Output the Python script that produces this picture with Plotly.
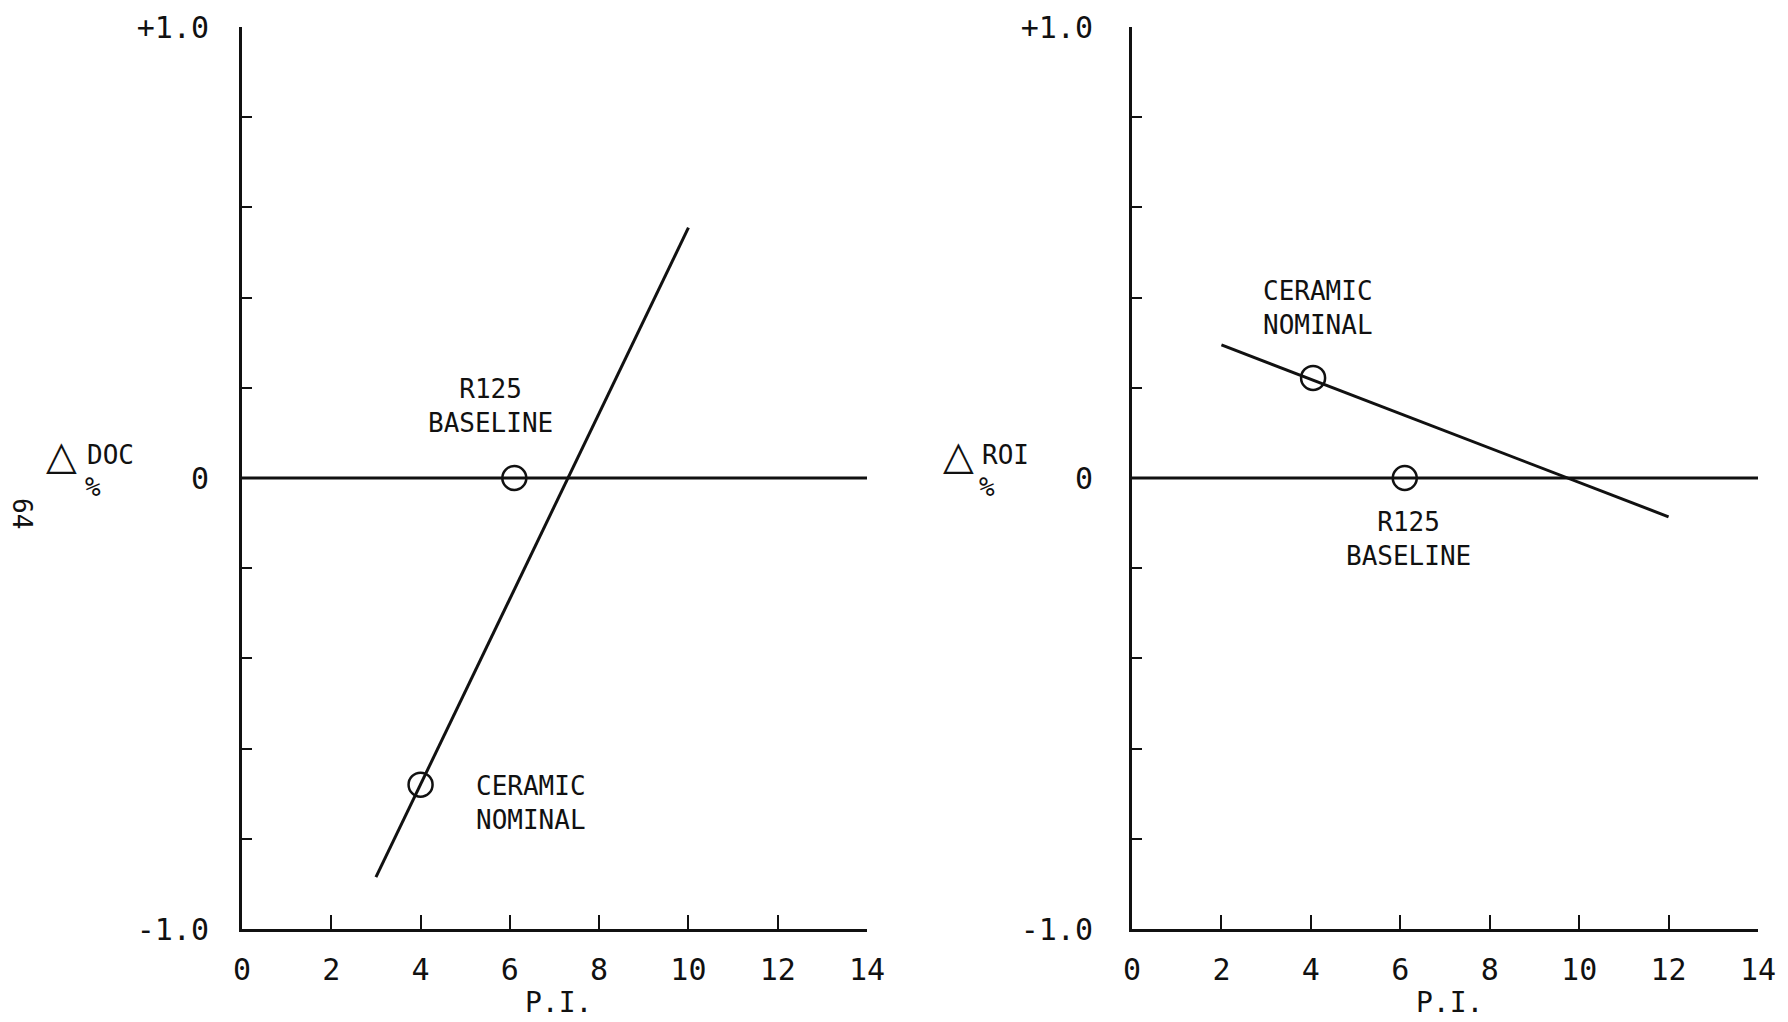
import plotly.graph_objects as go

# page body has an 8px margin; figure sized so the page fits the window
OFF = 8
W, H = 1780, 1014

# ---- data ----
pi_ticks = [0, 2, 4, 6, 8, 10, 12, 14]
y_ticks = [-1.0, -0.8, -0.6, -0.4, -0.2, 0.0, 0.2, 0.4, 0.6, 0.8, 1.0]
y_ticktext = ["-1.0", "", "", "", "", "0", "", "", "", "", "+1.0"]

baseline_x = [0, 14]
baseline_y = [0, 0]

doc_line_pi = [3.0, 10.0]
doc_line_val = [-0.885, 0.555]
doc_points_pi = [6.1, 4.0]
doc_points_val = [0.0, -0.68]

roi_line_pi = [2.0, 12.0]
roi_line_val = [0.295, -0.086]
roi_points_pi = [6.1, 4.05]
roi_points_val = [0.0, 0.222]

FONT = "DejaVu Sans Mono"
BLACK = "#111111"

fig = go.Figure()

def add_panel(xa, ya, line_x, line_y, pts_x, pts_y):
    fig.add_trace(go.Scatter(x=baseline_x, y=baseline_y, mode="lines",
                             line=dict(color=BLACK, width=3), xaxis=xa, yaxis=ya,
                             showlegend=False, hoverinfo="skip", cliponaxis=False))
    fig.add_trace(go.Scatter(x=line_x, y=line_y, mode="lines",
                             line=dict(color=BLACK, width=3), xaxis=xa, yaxis=ya,
                             showlegend=False, cliponaxis=False))
    fig.add_trace(go.Scatter(x=pts_x, y=pts_y, mode="markers",
                             marker=dict(symbol="circle-open", size=24, color=BLACK,
                                         line=dict(width=2.5, color=BLACK)),
                             xaxis=xa, yaxis=ya, showlegend=False, cliponaxis=False))

add_panel("x", "y", doc_line_pi, doc_line_val, doc_points_pi, doc_points_val)
add_panel("x2", "y2", roi_line_pi, roi_line_val, roi_points_pi, roi_points_val)

def px(xp):
    return (xp - OFF) / W

def py(yp):
    return 1 - (yp - OFF) / H

ydom = [py(929), py(27)]
xdom1 = [px(242), px(867)]
xdom2 = [px(1132), px(1758)]

def xaxis_cfg(dom, anchor):
    return dict(domain=dom, anchor=anchor, range=[0, 14], tickvals=pi_ticks,
                ticktext=[str(v) for v in pi_ticks], ticks="inside", ticklen=14,
                tickwidth=2, tickcolor=BLACK, showline=True, linewidth=3,
                linecolor=BLACK, showgrid=False, zeroline=False, automargin=False,
                tickfont=dict(family=FONT, size=30, color=BLACK),
                ticklabelstandoff=12)

def yaxis_cfg(anchor, standoff):
    return dict(domain=ydom, anchor=anchor, range=[-1, 1], tickvals=y_ticks,
                ticktext=y_ticktext, ticks="inside", ticklen=10, tickwidth=2,
                tickcolor=BLACK, showline=True, linewidth=3, linecolor=BLACK,
                showgrid=False, zeroline=False, automargin=False,
                tickfont=dict(family=FONT, size=30, color=BLACK),
                ticklabelstandoff=standoff)

ann = []
txt = dict(family=FONT, size=26, color=BLACK)
# in-plot labels
ann.append(dict(x=5.57, y=0.159, xref="x", yref="y", text="R125<br>BASELINE",
                showarrow=False, font=txt, align="center"))
ann.append(dict(x=5.2, y=-0.721, xref="x", yref="y", text="CERAMIC<br>NOMINAL",
                showarrow=False, font=txt, align="left", xanchor="left"))
ann.append(dict(x=4.17, y=0.376, xref="x2", yref="y2", text="CERAMIC<br>NOMINAL",
                showarrow=False, font=txt, align="center"))
ann.append(dict(x=6.19, y=-0.135, xref="x2", yref="y2", text="R125<br>BASELINE",
                showarrow=False, font=txt, align="center"))
# x-axis titles
for xr in ["x", "x2"]:
    ann.append(dict(x=7.1, y=py(1002), xref=xr, yref="paper", text="P.I.",
                    xanchor="center", yanchor="middle",
                    showarrow=False, font=dict(family=FONT, size=28, color=BLACK)))
# y-axis titles
for (tx, lx, lab, pcx) in [(61, 110, "DOC", 93), (958, 1005, "ROI", 987)]:
    ann.append(dict(x=px(tx), y=py(455), xref="paper", yref="paper", text="△",
                    xanchor="center", yanchor="middle",
                    showarrow=False, font=dict(family="DejaVu Sans", size=40, color=BLACK)))
    ann.append(dict(x=px(lx), y=py(455), xref="paper", yref="paper", text=lab,
                    xanchor="center", yanchor="middle",
                    showarrow=False, font=txt))
    ann.append(dict(x=px(pcx), y=py(487), xref="paper", yref="paper", text="%",
                    xanchor="center", yanchor="middle",
                    showarrow=False, font=txt))
# page number
ann.append(dict(x=px(22), y=py(513), xref="paper", yref="paper", text="64",
                xanchor="center", yanchor="middle",
                textangle=90, showarrow=False, font=dict(family=FONT, size=26, color=BLACK)))

fig.update_layout(
    width=W, height=H,
    margin=dict(l=0, r=0, t=0, b=0),
    paper_bgcolor="white", plot_bgcolor="white",
    xaxis=xaxis_cfg(xdom1, "y"),
    yaxis=yaxis_cfg("x", 24),
    xaxis2=xaxis_cfg(xdom2, "y2"),
    yaxis2=yaxis_cfg("x2", 30),
    annotations=ann,
    showlegend=False,
)

fig.write_html("out.html")
